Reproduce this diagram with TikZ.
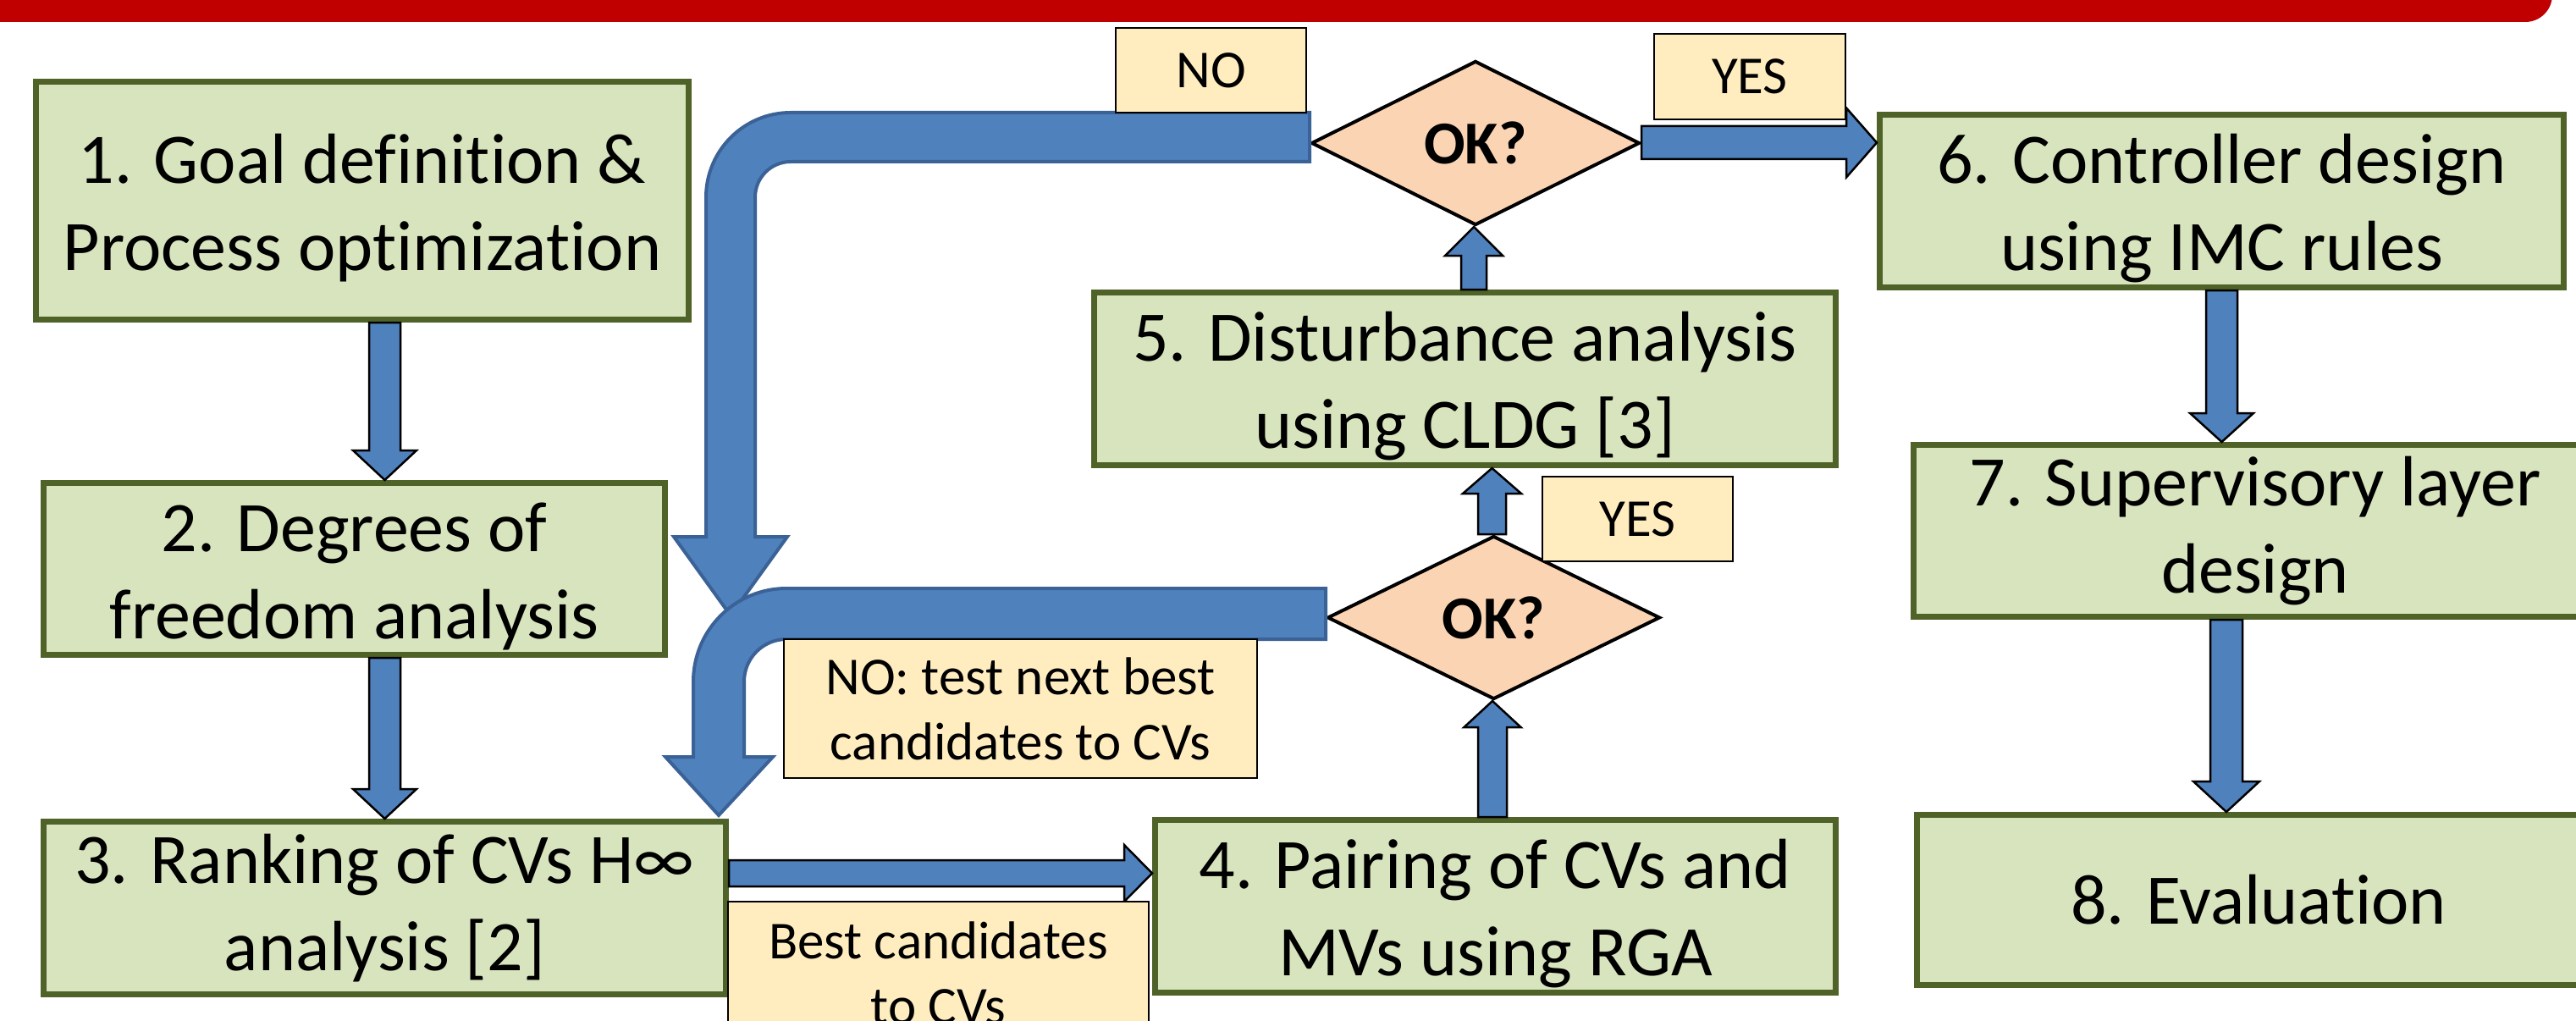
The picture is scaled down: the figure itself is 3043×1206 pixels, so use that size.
\documentclass[tikz,border=0pt]{standalone}
\usepackage{fontspec}
\setmainfont{Carlito}[Ligatures=NoCommon]
\usetikzlibrary{shapes.geometric,calc}
\definecolor{boxfill}{HTML}{D7E4BD}
\definecolor{boxline}{HTML}{4F6228}
\definecolor{dfill}{HTML}{FBD4B4}
\definecolor{lfill}{HTML}{FFEDC0}
\definecolor{ablue}{HTML}{4F81BD}
\definecolor{adark}{HTML}{3B6296}
\definecolor{topred}{HTML}{C00000}
\newcommand\fbig{\fontsize{84}{103}\selectfont}
\newcommand\fsmall{\fontsize{63}{77}\selectfont}
\newcommand\fok{\fontsize{72}{88}\selectfont\bfseries}
\newcommand\toppad{\rule{0pt}{76pt}}
% #1 x (px), #2 start anchor, #3 tip anchor, #4 half shaft, #5 half head, #6 head length
\newcommand\blkdown[6]{\draw[blockarr] let \p1=(#2), \p2=(#3) in
  (#1pt-#4pt,\y1) -- (#1pt-#4pt,\y2+#6pt) -- (#1pt-#5pt,\y2+#6pt) -- (#1pt,\y2)
  -- (#1pt+#5pt,\y2+#6pt) -- (#1pt+#4pt,\y2+#6pt) -- (#1pt+#4pt,\y1) -- cycle;}
\newcommand\blkup[6]{\draw[blockarr] let \p1=(#2), \p2=(#3) in
  (#1pt-#4pt,\y1) -- (#1pt-#4pt,\y2-#6pt) -- (#1pt-#5pt,\y2-#6pt) -- (#1pt,\y2)
  -- (#1pt+#5pt,\y2-#6pt) -- (#1pt+#4pt,\y2-#6pt) -- (#1pt+#4pt,\y1) -- cycle;}
% #1 y (px, downward)
\newcommand\blkright[6]{\draw[blockarr] let \p1=(#2), \p2=(#3) in
  (\x1,-#1pt+#4pt) -- (\x2-#6pt,-#1pt+#4pt) -- (\x2-#6pt,-#1pt+#5pt) -- (\x2,-#1pt)
  -- (\x2-#6pt,-#1pt-#5pt) -- (\x2-#6pt,-#1pt-#4pt) -- (\x1,-#1pt-#4pt) -- cycle;}
\tikzset{
  stepbox/.style={draw=boxline, fill=boxfill, line width=7, align=center, font=\fbig, inner sep=0},
  decision/.style={diamond, draw=black, fill=dfill, line width=4, font=\fok, inner sep=0},
  lab/.style={draw=black, fill=lfill, line width=2.5, align=center, font=\fsmall, inner sep=0},
  blockarr/.style={fill=ablue, draw=black, line width=2.5},
  bigarr/.style={fill=ablue, draw=adark, line width=4},
}
\begin{document}
\begin{tikzpicture}[x=1pt,y=-1pt]
\useasboundingbox (0,0) rectangle (3043,1206);
\clip (0,0) rectangle (3043,1206);
\fill[white] (0,0) rectangle (3043,1206);
\fill[topred, rounded corners=32] (-50,-80) rectangle (3015,26);

\node[stepbox, minimum width=771, minimum height=281] (b1) at (428,237) {\toppad 1. Goal definition \&\\Process optimization};
\node[stepbox, minimum width=734, minimum height=203] (b2) at (418.5,672) {\toppad 2. Degrees of\\freedom analysis};
\node[stepbox, minimum width=806, minimum height=204] (b3) at (454.5,1072.5) {3. Ranking of CVs H∞\\analysis [2]};
\node[stepbox, minimum width=804, minimum height=204] (b4) at (1766.5,1070.5) {\toppad 4. Pairing of CVs and\\MVs using RGA};
\node[stepbox, minimum width=876, minimum height=204] (b5) at (1730.5,447.5) {\toppad 5. Disturbance analysis\\using CLDG [3]};
\node[stepbox, minimum width=808, minimum height=204] (b6) at (2624.5,237.5) {\toppad 6. Controller design\\using IMC rules};
\node[stepbox, minimum width=807, minimum height=203] (b7) at (2664,627) {7. Supervisory layer\\design};
\node[stepbox, minimum width=807, minimum height=201] (b8) at (2668,1063) {8. Evaluation};

\node[decision, minimum width=388, minimum height=194] (d1) at (1743,169) {OK?};
\node[decision, minimum width=393, minimum height=193] (d2) at (1764.5,729.5) {OK?};

\coordinate (tipA) at (863,727);
\coordinate (tipB) at (849,963);
\draw[bigarr] (d1.west |- 0,133) -- (934,133) .. controls (878.8,133) and (834,177.8) .. (834,233)
  -- (834,634) -- (796,634) -- (tipA) -- (930,634) -- (892,634) -- (892,233)
  .. controls (892,209.8) and (910.8,191) .. (934,191) -- (d1.west |- 0,191) -- cycle;
\draw[bigarr] (d2.west |- 0,695) -- (929,695) .. controls (868.3,695) and (819,744.3) .. (819,805)
  -- (819,894) -- (786,894) -- (tipB) -- (913,894) -- (879,894) -- (879,805)
  .. controls (879,777.4) and (901.4,755) .. (929,755) -- (d2.west |- 0,755) -- cycle;

\blkdown{454.5}{b1.south}{b2.north}{18.5}{37.5}{35}
\blkdown{454.5}{b2.south}{b3.north}{18.5}{37.5}{35}
\blkright{1031.5}{b3.east}{b4.west}{15.5}{33.5}{33}
\blkup{1763}{b4.north}{d2.south}{17}{33.5}{31}
\blkup{1762.5}{d2.north}{b5.south}{16.5}{34.5}{30}
\blkup{1741}{b5.north}{d1.south}{15}{34}{34}
\blkright{168.5}{d1.east}{b6.west}{19.5}{41}{36}
\blkdown{2624.5}{b6.south}{b7.north}{18.5}{37.5}{34}
\blkdown{2630}{b7.south}{b8.north}{19}{39}{36}

\node[lab, minimum width=225, minimum height=100] (lno1) at (1430.5,83) {NO};
\node[lab, minimum width=226, minimum height=101] (lyes1) at (2067,90.5) {YES};
\node[lab, minimum width=225, minimum height=100] (lyes2) at (1934.5,613) {YES};
\node[lab, minimum width=559, minimum height=164] (lno2) at (1205.5,837) {NO: test next best\\candidates to CVs};
\node[lab, minimum width=497, minimum height=168] (lbest) at (1108.5,1149) {Best candidates\\to CVs};
\end{tikzpicture}
\end{document}
